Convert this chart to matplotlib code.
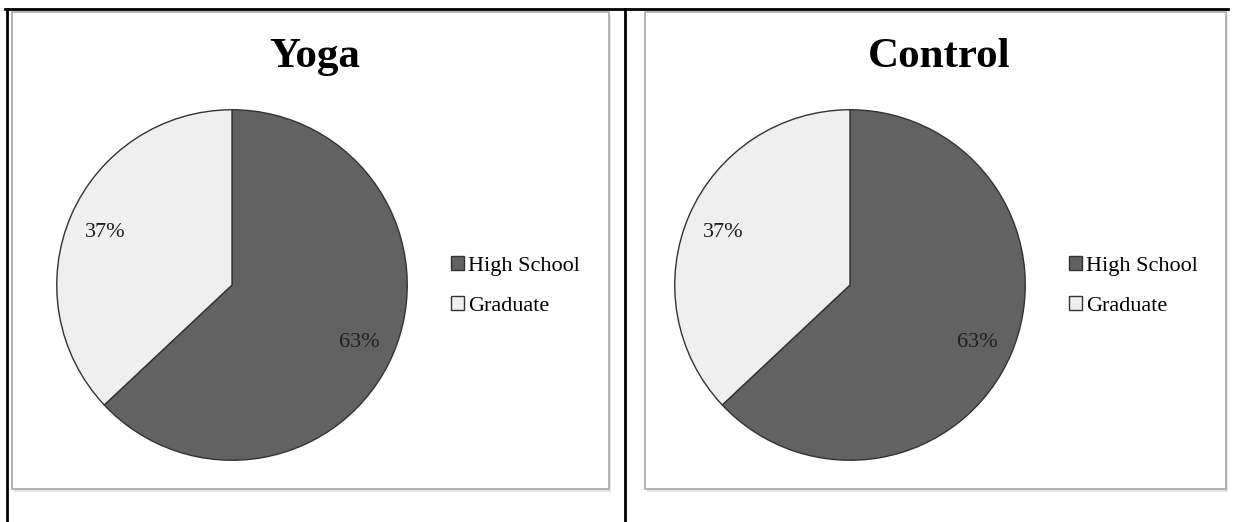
import matplotlib.pyplot as plt
from matplotlib.patches import Rectangle
from matplotlib.lines import Line2D

titles = ["Yoga", "Control"]
labels = ["High School", "Graduate"]
yoga_vals = [63, 37]
control_vals = [63, 37]
colors = ["#626262", "#efefef"]

W, H = 1241, 522
fig = plt.figure(figsize=(W / 100, H / 100), dpi=100)
fig.patch.set_facecolor("white")

def fx(px):
    return px / W

def fy(py):
    return (H - py) / H

# table lines
fig.add_artist(Line2D([fx(5), fx(1228)], [fy(9), fy(9)], color="black", lw=2))
fig.add_artist(Line2D([fx(7), fx(7)], [fy(9), fy(522)], color="black", lw=2))
fig.add_artist(Line2D([fx(625), fx(625)], [fy(9), fy(522)], color="black", lw=2))

# chart boxes: (left, right, pie center x, legend x)
panels = [(12, 609, 232, 440), (645, 1226, 850, 1058)]
data = [yoga_vals, control_vals]

for (x0, x1, cx, lx), title, vals in zip(panels, titles, data):
    fig.add_artist(Rectangle((fx(x0) + 0.0015, fy(490) - 0.003), fx(x1 - x0), fy(12) - fy(489),
                             transform=fig.transFigure, facecolor="#e4e4e4", edgecolor="none", zorder=-3))
    fig.add_artist(Rectangle((fx(x0), fy(489)), fx(x1 - x0), fy(12) - fy(489),
                             transform=fig.transFigure, facecolor="white", edgecolor="#a8a8a8", lw=1.2, zorder=-2))
    fig.text(fx((x0 + x1) / 2 + 4), fy(57), title, ha="center", va="center",
             fontsize=31, fontweight="bold", family="Liberation Serif")

    r = 177
    ax = fig.add_axes([fx(cx - r), fy(285 + r), fx(2 * r), fy(285 - r) - fy(285 + r)])
    ax.patch.set_visible(False)
    wedges, texts, autotexts = ax.pie(vals, colors=colors, startangle=90, counterclock=False,
                                      autopct="%d%%", pctdistance=0.79,
                                      wedgeprops=dict(edgecolor="#333333", linewidth=1.0),
                                      textprops=dict(fontsize=16, family="Liberation Serif", color="#1e1e1e"))
    for t in autotexts:
        t.set_va("center_baseline")
    ax.set_xlim(-1.01, 1.01)
    ax.set_ylim(-1.01, 1.01)
    for w in wedges:
        w.set_clip_on(False)

    fig.legend(wedges, labels, loc="center left", bbox_to_anchor=(fx(lx), fy(286)),
               bbox_transform=fig.transFigure, frameon=False, borderpad=0,
               handlelength=0.6, handleheight=0.6, handletextpad=0.15, labelspacing=0.9,
               prop=dict(family="Liberation Serif", size=16))

fig.savefig("out.png", dpi=100, facecolor="white")
